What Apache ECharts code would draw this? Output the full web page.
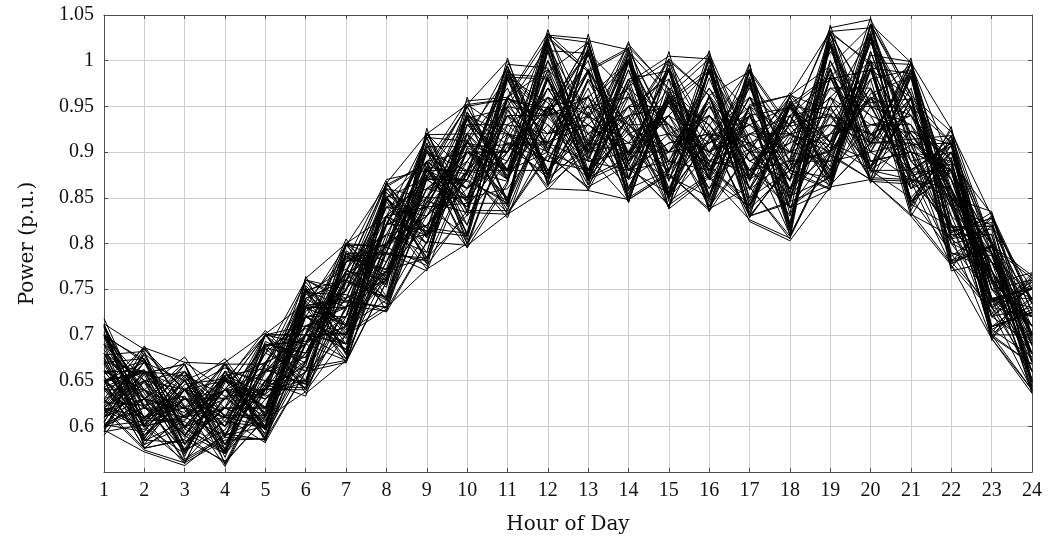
<!DOCTYPE html>
<html>
<head>
<meta charset="utf-8">
<script src="https://cdn.jsdelivr.net/npm/echarts@6/dist/echarts.min.js"></script>
<style>
  html, body { margin: 0; padding: 0; background: #fff; }
  #chart { width: 1059px; height: 540px; }
</style>
</head>
<body>
<div id="chart"></div>
<script>
// Hours of the day shown on the x axis
const hours = [1,2,3,4,5,6,7,8,9,10,11,12,13,14,15,16,17,18,19,20,21,22,23,24];

// Y axis range and step (p.u.)
const yMin = 0.55;
const yMax = 1.05;
const yStep = 0.05;

// Daily load profiles, one array per scenario (values in p.u., hours 1..24)
const p01 = [.648,.662,.598,.640,.604,.726,.748,.860,.806,.944,.880,1.034,.912,1.021,.868,1.006,.874,.962,.910,1.047,.860,.924,.756,.768];
const p02 = [.712,.608,.668,.575,.700,.650,.798,.752,.921,.834,1.003,.874,1.029,.872,1.010,.852,.996,.832,1.039,.908,1.003,.806,.834,.688];
const p03 = [.596,.572,.557,.592,.585,.690,.672,.790,.770,.880,.828,.948,.858,.940,.840,.924,.824,.803,.862,.870,.830,.776,.696,.636];
const p04 = [.630,.688,.622,.556,.640,.640,.732,.726,.852,.796,.920,.862,.962,.845,.980,.836,.940,.868,.990,.866,.960,.770,.780,.660];
const p05 = [.692,.640,.676,.610,.582,.764,.680,.868,.778,.960,.842,1.010,.870,.998,.838,.990,.830,.955,.884,1.030,.842,.928,.700,.740];
const p06 = [.618,.596,.640,.674,.612,.702,.805,.742,.926,.808,.990,.866,1.012,.872,.962,.895,.997,.822,1.018,.882,.948,.850,.835,.700];
const p07 = [.662,.630,.560,.648,.705,.660,.760,.830,.800,.920,.870,.985,.900,1.008,.880,1.011,.846,.940,.860,1.040,.900,.880,.720,.752];
const p08 = [.604,.680,.600,.570,.666,.748,.700,.800,.890,.850,.960,.900,.990,.850,.960,.870,.980,.815,1.000,.900,.990,.800,.810,.650];
const p09 = [.718,.620,.610,.660,.596,.690,.770,.760,.860,.900,.880,.960,.930,.900,.990,.840,.900,.900,.920,.980,.830,.900,.740,.720];
const p10 = [.642,.600,.650,.600,.690,.640,.720,.850,.790,.930,.900,1.020,.880,.980,.860,.960,.880,.930,.870,1.010,.890,.840,.780,.700];
const p11 = [.600,.650,.590,.640,.620,.720,.690,.780,.880,.820,.930,.920,.960,.920,.900,.950,.900,.860,.960,.930,.920,.860,.760,.710];
const p12 = [.680,.590,.640,.580,.650,.700,.780,.800,.830,.880,.980,.880,.940,.970,.930,.880,.960,.880,.940,.900,.870,.820,.730,.680];
const p13 = [.626,.670,.580,.620,.600,.730,.710,.820,.900,.860,.890,.990,.870,.890,.960,.930,.860,.950,.900,.960,.940,.880,.800,.740];
const p14 = [.660,.610,.620,.650,.630,.680,.740,.770,.850,.900,.850,.940,1.000,.860,.880,.990,.870,.900,1.020,.880,.850,.790,.770,.660];
const p15 = [.700,.640,.600,.610,.680,.660,.700,.810,.820,.870,.940,.870,.910,.950,.850,.900,.940,.840,.880,.990,.960,.910,.720,.760];
const p16 = [.610,.630,.660,.590,.610,.740,.760,.740,.870,.840,.900,.960,.880,.920,.940,.860,.920,.920,.930,.920,.900,.830,.790,.690];
const p17 = [.640,.660,.630,.630,.660,.710,.730,.840,.800,.940,.920,.910,.950,.880,.920,.940,.890,.870,.980,.940,.920,.870,.750,.720];
const p18 = [.674,.600,.570,.660,.590,.670,.790,.760,.910,.820,.960,.930,.890,.990,.870,.910,.950,.890,.890,1.000,.880,.810,.810,.670];
const p19 = [.590,.650,.640,.600,.700,.690,.720,.820,.840,.890,.850,1.000,.920,.870,.990,.880,.850,.940,.950,.870,.990,.860,.740,.750];
const p20 = [.650,.620,.620,.640,.640,.750,.690,.790,.880,.860,.910,.890,.980,.930,.900,.970,.910,.850,.910,.970,.850,.900,.770,.700];
const p21 = [.690,.580,.600,.620,.620,.660,.750,.850,.810,.910,.870,.950,.870,.960,.930,.900,.870,.960,.870,.950,.930,.840,.720,.730];
const p22 = [.620,.670,.650,.580,.670,.720,.700,.770,.860,.870,.950,.910,.930,.900,.870,.950,.930,.880,.990,.890,.900,.880,.790,.680];
const p23 = [.660,.640,.590,.660,.600,.700,.780,.800,.830,.900,.900,.970,.900,.940,.950,.890,.880,.910,.930,.990,.870,.820,.760,.710];
const p24 = [.700,.600,.630,.600,.650,.690,.740,.830,.870,.840,.940,.940,.960,.880,.910,.920,.960,.860,.960,.910,.960,.870,.740,.700];
const p25 = [.610,.640,.610,.640,.610,.740,.710,.760,.900,.880,.880,.900,.880,.990,.880,.960,.900,.920,.880,1.010,.890,.850,.800,.720];
const p26 = [.670,.660,.580,.630,.690,.680,.760,.810,.790,.930,.930,.960,.940,.910,.970,.870,.940,.870,1.000,.920,.940,.890,.730,.660];
const p27 = [.630,.590,.640,.650,.620,.710,.690,.860,.850,.850,.860,.920,.990,.920,.850,.940,.870,.950,.900,.960,.910,.800,.780,.740];
const p28 = [.680,.650,.610,.590,.640,.650,.780,.790,.880,.910,.970,.880,.920,.960,.920,.900,.920,.900,.950,.880,.880,.910,.750,.690];
const p29 = [.600,.620,.660,.620,.680,.720,.730,.770,.820,.860,.900,1.000,.890,.880,.960,.930,.880,.840,.900,1.020,.950,.840,.820,.750];
const p30 = [.650,.670,.620,.610,.600,.760,.750,.840,.860,.890,.950,.940,.950,.930,.890,.880,.960,.930,.970,.940,.860,.880,.740,.680];
const p31 = [.710,.630,.590,.640,.660,.700,.700,.820,.900,.830,.890,.980,.910,.900,.940,.990,.850,.880,.860,.990,.920,.860,.770,.710];
const p32 = [.620,.610,.650,.570,.630,.670,.800,.780,.840,.920,.920,.890,.970,.870,.900,.910,.930,.900,.990,.900,.970,.830,.730,.720];
const p33 = [.660,.660,.600,.650,.700,.710,.720,.860,.810,.900,.880,.930,.880,.980,.930,.870,.900,.860,.920,.960,.890,.900,.800,.670];
const p34 = [.640,.590,.630,.610,.610,.740,.760,.790,.920,.850,.960,.920,.940,.910,.880,.950,.880,.950,.880,.930,.930,.870,.760,.740];
const p35 = [.690,.640,.570,.660,.650,.650,.730,.800,.850,.940,.870,.970,.900,.950,.950,.900,.970,.890,.970,.970,.880,.810,.790,.700];
const p36 = [.610,.680,.640,.600,.640,.700,.690,.830,.870,.870,.940,.900,1.010,.880,.910,.920,.910,.870,.910,.890,.900,.890,.750,.760];
const p37 = [.670,.600,.610,.630,.690,.680,.770,.760,.830,.910,.900,.950,.920,.940,.870,.960,.860,.920,.960,1.000,.940,.850,.720,.690];
const p38 = [.630,.650,.660,.590,.600,.730,.710,.850,.890,.860,.910,.910,.890,.900,.960,.890,.940,.880,.930,.910,.910,.880,.800,.660];
const p39 = [.700,.620,.600,.650,.670,.690,.750,.800,.810,.890,.960,.990,.950,.960,.900,.940,.890,.910,1.010,.950,.870,.860,.740,.730];
const p40 = [.650,.610,.630,.620,.620,.720,.720,.770,.870,.920,.880,.880,.930,.890,.940,.880,.920,.940,.880,.980,.990,.820,.780,.700];
const p41 = [.610,.660,.640,.600,.680,.760,.740,.840,.830,.870,.990,.940,.960,1.000,.880,.920,.880,.850,.940,.920,.880,.910,.760,.710];
const p42 = [.680,.630,.590,.640,.630,.660,.780,.810,.890,.900,.900,.960,.870,.930,.930,.860,.950,.920,.900,1.020,.920,.850,.800,.680];
const p43 = [.640,.640,.620,.580,.650,.710,.700,.780,.860,.850,.940,.910,.950,.880,.890,.960,.880,.890,1.030,.890,.900,.780,.730,.750];
const p44 = [.620,.600,.650,.670,.610,.690,.760,.850,.800,.900,.870,.980,.910,.950,.980,.900,.930,.950,.910,.960,.860,.900,.770,.690];
const p45 = [.700,.670,.610,.620,.670,.730,.730,.760,.880,.880,.920,.900,.990,.900,.900,.940,.900,.830,.950,.950,.950,.840,.740,.710];
const p46 = [.660,.610,.640,.630,.640,.680,.770,.830,.840,.930,.880,.950,.900,.910,.920,.880,.960,.900,.890,.900,.910,.870,.790,.740];
const p47 = [.620,.650,.600,.650,.600,.750,.710,.790,.900,.860,.960,.920,.930,.970,.860,.930,.870,.940,.980,.990,.880,.820,.760,.660];
const p48 = [.690,.620,.660,.610,.700,.700,.750,.820,.850,.910,.890,.970,.940,.870,.960,.890,.910,.880,.920,.930,.940,.880,.750,.720];
const p49 = [.650,.660,.580,.650,.620,.720,.690,.800,.820,.880,.930,.890,.880,.950,.900,.970,.890,.920,.960,.880,.870,.860,.780,.700];
const p50 = [.600,.630,.620,.600,.660,.690,.780,.870,.880,.840,.900,.950,.960,.890,.940,.910,.940,.860,.900,.970,.900,.800,.740,.740];
const p51 = [.597,.657,.567,.660,.614,.752,.678,.830,.778,.943,.874,1.020,.868,.975,.848,.995,.868,.955,.868,1.000,.840,.914,.732,.758];
const p52 = [.703,.602,.660,.566,.668,.642,.792,.764,.910,.804,.957,.868,1.016,.890,.996,.845,.950,.814,1.024,.914,.990,.782,.797,.644];
const p53 = [.622,.678,.590,.640,.592,.754,.705,.856,.810,.914,.840,1.018,.902,1.006,.848,.962,.834,.956,.904,1.032,.874,.887,.702,.758];
const p54 = [.676,.580,.640,.589,.693,.669,.767,.734,.882,.840,.988,.904,.987,.854,.964,.880,.982,.848,.992,.877,.958,.814,.823,.672];
const p55 = [.655,.586,.652,.574,.659,.676,.784,.772,.902,.811,.946,.877,1.008,.897,.955,.852,.973,.856,1.016,.884,.949,.789,.787,.679];
const p56 = [.603,.621,.574,.631,.598,.745,.712,.849,.785,.904,.847,1.012,.893,.999,.855,.989,.841,.916,.875,1.025,.846,.878,.739,.751];
const p57 = [.697,.609,.605,.573,.686,.675,.758,.741,.873,.847,.981,.875,.978,.897,.989,.851,.941,.821,1.018,.905,.983,.821,.788,.651];
const p58 = [.614,.648,.575,.653,.621,.721,.684,.848,.817,.936,.848,.981,.875,.998,.889,.988,.842,.949,.911,1.024,.846,.894,.709,.725];
const p59 = [.668,.588,.631,.572,.685,.649,.786,.755,.889,.811,.979,.911,1.008,.861,.955,.887,.975,.855,.982,.884,.982,.805,.816,.650];
const p60 = [.605,.671,.597,.654,.599,.737,.696,.846,.784,.905,.881,1.013,.876,.965,.856,.981,.875,.948,.876,.991,.881,.907,.709,.741];
const p61 = [.643,.661,.618,.575,.620,.746,.772,.741,.838,.936,.881,.979,.874,.939,.988,.871,.841,.932,.939,.884,.982,.857,.739,.751];
const p62 = [.698,.673,.581,.620,.600,.736,.786,.771,.784,.920,.982,.954,.909,.861,.954,.988,.859,.893,1.016,.868,.865,.907,.803,.709];
const p63 = [.629,.587,.646,.652,.633,.649,.712,.850,.872,.868,.847,1.011,1.008,.881,.855,.913,.975,.821,.982,1.026,.907,.821,.709,.725];
const p64 = [.700,.636,.574,.596,.660,.746,.744,.725,.801,.937,.948,.875,.951,.999,.873,.851,.940,.949,.895,.964,.983,.789,.723,.767];
const p65 = [.602,.594,.654,.605,.599,.720,.786,.788,.784,.831,.982,.980,.875,1.000,.915,.887,.841,.949,.982,.884,.923,.908,.739,.651];
const p66 = [.657,.672,.597,.573,.687,.707,.684,.820,.903,.847,.906,.875,1.009,.964,.855,.989,.917,.839,.875,1.027,.948,.857,.709,.724];
const p67 = [.684,.622,.668,.580,.649,.633,.758,.865,.817,.811,.981,.938,.893,.980,.989,.835,.901,.965,.911,.990,.846,.907,.771,.679];
const p68 = [.613,.686,.621,.668,.583,.660,.728,.862,.888,.795,.865,1.028,1.024,.845,.970,.929,.991,.839,.859,1.040,.964,.773,.831,.693];
const p69 = [.711,.585,.582,.621,.701,.735,.669,.804,.919,.920,.831,.911,1.006,.923,.839,1.005,.859,.932,1.033,.868,.923,.893,.694,.766];
const p70 = [.641,.608,.559,.652,.606,.691,.801,.726,.872,.952,.922,.859,.909,1.015,.970,.835,.991,.877,.859,1.006,.999,.805,.771,.636];
const p71 = [.600,.660,.655,.592,.645,.748,.680,.768,.875,.938,.845,.950,1.010,.895,.955,.850,.978,.852,.950,1.028,.845,.880,.736,.752];
const p72 = [.672,.584,.606,.655,.596,.672,.760,.852,.781,.880,.985,.982,.872,.925,.992,.885,.838,.952,.985,.950,.878,.910,.706,.728];
const p73 = [.699,.650,.572,.606,.662,.646,.789,.768,.840,.808,.950,1.016,.906,1.002,.852,.915,.943,.818,1.020,.918,.986,.843,.790,.648];
const p74 = [.643,.584,.633,.570,.689,.693,.709,.822,.906,.844,.844,.940,1.012,.858,.957,.992,.903,.852,.872,.992,.986,.818,.819,.696];
const p75 = [.626,.674,.572,.633,.635,.749,.760,.738,.814,.940,.908,.908,.872,1.002,.917,.848,.978,.918,.908,.881,.908,.910,.790,.648];
const p76 = [.699,.623,.633,.570,.617,.722,.681,.852,.840,.844,.985,.872,.980,.925,.852,.992,.872,.952,.940,.992,.843,.818,.819,.726];
const p77 = [.600,.606,.607,.656,.663,.646,.789,.790,.781,.938,.878,.982,.872,.894,.992,.915,.978,.818,.984,.881,.986,.843,.736,.754];
const p78 = [.670,.674,.593,.570,.689,.693,.709,.738,.874,.870,.844,1.016,.937,1.002,.886,.955,.838,.880,.872,1.028,.878,.880,.758,.648];
const p79 = [.643,.606,.656,.633,.596,.749,.730,.822,.814,.808,.985,.940,1.012,.858,.957,.884,.903,.952,.872,.992,.878,.786,.819,.726];
const p80 = [.626,.623,.572,.656,.635,.672,.789,.738,.906,.906,.908,.872,.906,1.002,.852,.992,.943,.880,1.020,.918,.950,.910,.706,.676];
const p81 = [.710,.576,.585,.562,.608,.638,.700,.728,.802,.798,.832,.860,.858,.848,.876,.838,.862,.808,.898,.870,.868,.776,.726,.640];
const p82 = [.650,.606,.642,.612,.640,.730,.798,.864,.888,.956,.960,1.030,.940,1.018,.968,1.008,.910,.930,1.036,1.045,.962,.922,.830,.735];
const p83 = [.618,.574,.560,.585,.586,.660,.670,.758,.846,.834,.832,.896,.862,.886,.842,.874,.826,.806,.896,.870,.832,.808,.696,.640];
const p84 = [.680,.632,.590,.560,.646,.732,.740,.760,.884,.876,.996,.992,.896,.846,.966,.918,.862,.805,1.030,.952,.868,.890,.832,.738];
const p85 = [.645,.686,.670,.640,.588,.702,.770,.866,.812,.880,.868,1.030,.990,1.014,.838,.872,.990,.928,.942,.870,.998,.925,.800,.638];
const p86 = [.598,.630,.615,.670,.702,.636,.672,.758,.920,.952,1.000,.898,.860,.976,1.005,1.002,.828,.890,.900,1.040,.998,.852,.698,.668];
const p87 = [.680,.598,.562,.610,.642,.762,.800,.830,.772,.800,.918,1.026,.988,.848,.876,.836,.952,.962,1.032,.995,.834,.778,.798,.765];
const p88 = [.712,.684,.640,.560,.610,.700,.768,.866,.920,.876,.834,.898,1.022,1.012,.925,.874,.990,.808,.898,.958,.996,.888,.765,.640];
const p89 = [.618,.630,.670,.668,.586,.732,.738,.730,.772,.952,.958,.948,.898,.934,1.002,.962,.830,.962,.994,1.038,.870,.850,.698,.735];
const p90 = [.650,.576,.586,.640,.700,.664,.672,.796,.884,.800,.868,1.026,1.020,.886,.842,.962,.988,.888,.864,.910,.998,.778,.798,.702];
const p91 = [.594,.602,.640,.664,.644,.642,.798,.798,.884,.950,.870,.944,.864,1.010,.962,.918,.830,.844,1.032,1.036,.912,.884,.700,.668];
const p92 = [.678,.682,.564,.590,.668,.758,.702,.732,.844,.912,.994,.864,.944,.850,1.000,.962,.906,.960,.864,.910,.996,.780,.796,.762];
const p93 = [.708,.600,.612,.640,.586,.700,.702,.830,.916,.836,.836,1.024,.988,.930,.878,1.000,.830,.886,.992,.872,.870,.918,.700,.700];
const p94 = [.620,.658,.668,.558,.642,.666,.800,.762,.846,.950,.958,.944,1.020,.886,.962,.840,.988,.846,.864,1.040,.958,.812,.828,.642];
const p95 = [.650,.576,.612,.668,.612,.730,.674,.866,.808,.876,.994,.864,.900,1.012,.922,.840,.950,.962,.946,.910,.958,.780,.828,.734];
const p96 = [.678,.630,.562,.588,.700,.640,.766,.796,.916,.800,.914,.988,1.020,.850,.878,1.002,.908,.810,1.030,.998,.836,.918,.762,.670];
const p97 = [.594,.684,.640,.612,.612,.730,.736,.730,.880,.950,.872,1.024,.900,.972,1.000,.920,.830,.846,1.030,.954,.958,.848,.730,.762];
const p98 = [.708,.630,.588,.668,.668,.700,.674,.830,.808,.876,.994,.902,.988,1.012,.846,.876,.988,.924,.866,1.040,.914,.812,.828,.734];
const p99 = [.650,.658,.668,.588,.586,.760,.736,.762,.916,.912,.836,.944,1.020,.886,.962,1.002,.830,.886,.902,.998,.996,.848,.700,.640];
const p100 = [.620,.576,.612,.640,.700,.700,.800,.796,.776,.836,.958,1.024,.864,.930,1.000,.876,.950,.810,1.030,.910,.914,.918,.796,.700];

const profiles = [p01,p02,p03,p04,p05,p06,p07,p08,p09,p10,p11,p12,p13,p14,p15,p16,p17,p18,p19,p20,
                  p21,p22,p23,p24,p25,p26,p27,p28,p29,p30,p31,p32,p33,p34,p35,p36,p37,p38,p39,p40,
                  p41,p42,p43,p44,p45,p46,p47,p48,p49,p50,p51,p52,p53,p54,p55,p56,p57,p58,p59,p60,
                  p61,p62,p63,p64,p65,p66,p67,p68,p69,p70,p71,p72,p73,p74,p75,p76,p77,p78,p79,p80,
                  p81,p82,p83,p84,p85,p86,p87,p88,p89,p90,p91,p92,p93,p94,p95,p96,p97,p98,p99,p100];

const TICK_FONT = 'Liberation Serif';
const TITLE_FONT = 'DejaVu Serif';
const frameColor = '#4d4d4d';
const gridColor = '#cfcfcf';

function fmtY(v) {
  if (Math.abs(v - yMin) < 1e-6) return '';
  return String(+v.toFixed(2));
}

const series = profiles.map((p, i) => ({
  name: 'p' + (i + 1),
  type: 'line',
  data: hours.map((h, k) => [h, p[k]]),
  showSymbol: false,
  symbol: 'none',
  lineStyle: { color: '#000', width: 1 },
  silent: true,
  animation: false,
  z: 2
}));

const chart = echarts.init(document.getElementById('chart'), null, { renderer: 'canvas' });
chart.setOption({
  backgroundColor: '#fff',
  animation: false,
  grid: { left: 104, right: 27, top: 15, bottom: 67, containLabel: false },
  xAxis: [{
    type: 'value', min: 1, max: 24, interval: 1,
    name: 'Hour of Day', nameLocation: 'middle', nameGap: 43,
    nameTextStyle: { fontFamily: TITLE_FONT, fontSize: 20, color: '#111' },
    axisLine: { show: true, lineStyle: { color: frameColor, width: 1 } },
    axisTick: { show: true, inside: true, length: 4, lineStyle: { color: frameColor } },
    axisLabel: { fontFamily: TICK_FONT, fontSize: 20, color: '#111', margin: 9 },
    splitLine: { show: true, lineStyle: { color: gridColor, width: 1 } }
  }, {
    type: 'value', min: 1, max: 24, interval: 1, position: 'top',
    axisLine: { show: true, onZero: false, lineStyle: { color: frameColor, width: 1 } },
    axisTick: { show: true, inside: true, length: 4, lineStyle: { color: frameColor } },
    axisLabel: { show: false },
    splitLine: { show: false }
  }],
  yAxis: [{
    type: 'value', min: yMin, max: yMax, interval: yStep,
    name: 'Power (p.u.)', nameLocation: 'middle', nameGap: 66,
    nameTextStyle: { fontFamily: TITLE_FONT, fontSize: 20, color: '#111' },
    axisLine: { show: true, onZero: false, lineStyle: { color: frameColor, width: 1 } },
    axisTick: { show: true, inside: true, length: 4, lineStyle: { color: frameColor } },
    axisLabel: { fontFamily: TICK_FONT, fontSize: 20, color: '#111', margin: 10, formatter: fmtY },
    splitLine: { show: true, lineStyle: { color: gridColor, width: 1 } }
  }, {
    type: 'value', min: yMin, max: yMax, interval: yStep, position: 'right',
    axisLine: { show: true, onZero: false, lineStyle: { color: frameColor, width: 1 } },
    axisTick: { show: true, inside: true, length: 4, lineStyle: { color: frameColor } },
    axisLabel: { show: false },
    splitLine: { show: false }
  }],
  series: series
});
</script>
</body>
</html>
